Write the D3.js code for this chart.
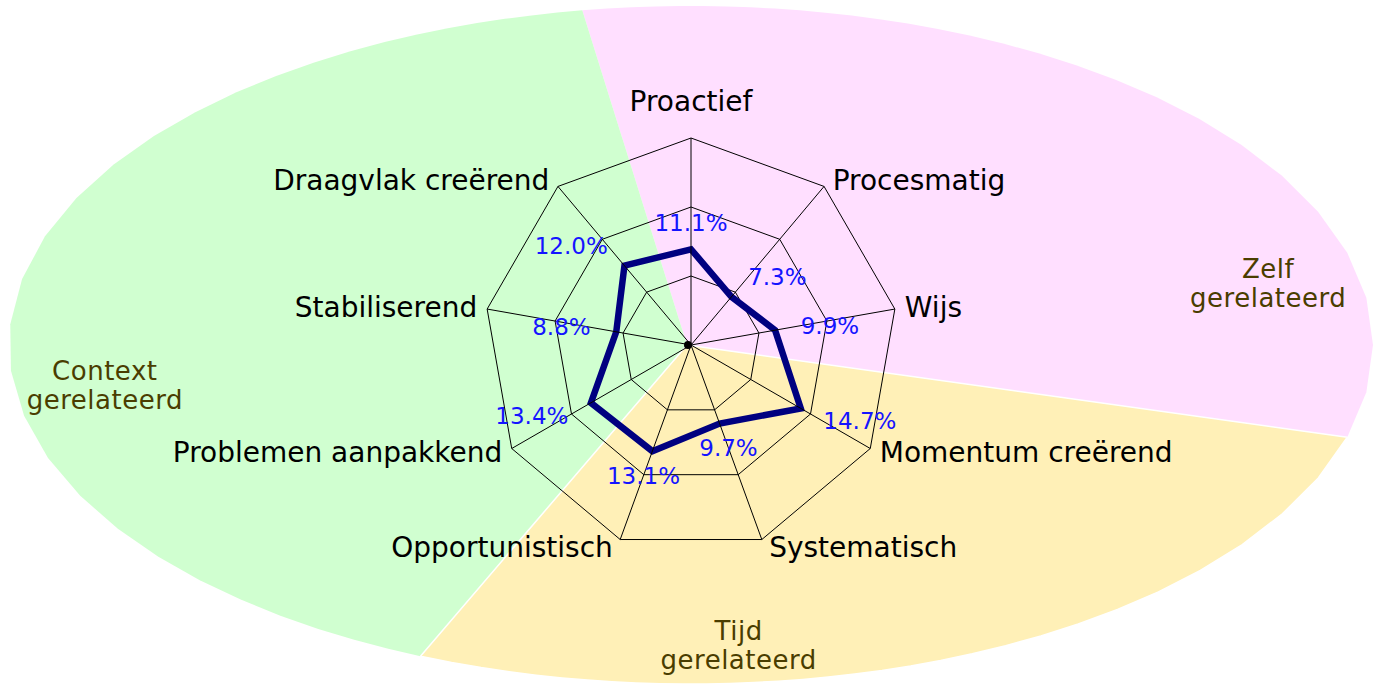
<!DOCTYPE html>
<html>
<head>
<meta charset="utf-8">
<script src="https://cdn.jsdelivr.net/npm/d3@7"></script>
<style>
  body { margin: 0; background: #fff; }
  svg { display: block; }
</style>
</head>
<body>
<div id="chart"></div>
<script>
// the nine spokes, clockwise from the top
var axes = ["Proactief", "Procesmatig", "Wijs", "Momentum creërend", "Systematisch",
            "Opportunistisch", "Problemen aanpakkend", "Stabiliserend", "Draagvlak creërend"];
// share per spoke, in %
var values = [11.1, 7.3, 9.9, 14.7, 9.7, 13.1, 13.4, 8.8, 12.0];
// grid rings (not labelled in the picture)
var ringTicks = [8, 16, 24];
// the three background groups: Zelf (pink), Tijd (yellow), Context (green)
var groupNames = [["Zelf", "gerelateerd"], ["Tijd", "gerelateerd"], ["Context", "gerelateerd"]];
var groupColors = ["#ffdfff", "#fff0b7", "#d0ffd0"];

var width = 1380, height = 684;
var cx = 691, cy = 345, R = 207;   // radar centre and outer radius
var ex = 682, ey = 339;            // background ellipse radii

var svg = d3.select("#chart")
  .append("svg")
    .attr("width", width)
    .attr("height", height);

// ---- background: ellipse cut into three sectors (angles in degrees, clockwise from 3 o'clock)
var sectorAngles = [[-108, 8], [8, 131], [131, 252]];
var groupLabelPos = [[-6, 0.865], [81, 0.89], [176, 0.868]];

function ellipsePoint(deg, frac) {
  var a = deg * Math.PI / 180, c = Math.cos(a), s = Math.sin(a);
  var r = (frac || 1) / Math.sqrt(c * c / (ex * ex) + s * s / (ey * ey));
  return [cx + r * c, cy + r * s];
}

var drawOrder = [0, 2, 1];  // yellow last so its white edge shows
drawOrder.forEach(function(i) {
  var sa = sectorAngles[i];
  var n = Math.ceil((sa[1] - sa[0]) / 4);
  var pts = [[cx - 4, cy]];
  for (var k = 0; k <= n; k++) pts.push(ellipsePoint(sa[0] + (sa[1] - sa[0]) * k / n));
  svg.append("path")
    .attr("d", d3.line()(pts) + "Z")
    .attr("fill", groupColors[i])
    .attr("stroke", i == 1 ? "#fff" : "none")
    .attr("stroke-width", 1.5)
    .attr("stroke-linejoin", "round");
});

// group labels
groupNames.forEach(function(lines, i) {
  var p = ellipsePoint(groupLabelPos[i][0], groupLabelPos[i][1]);
  var t = svg.append("text")
    .attr("text-anchor", "middle")
    .style("font-family", "'DejaVu Sans', sans-serif")
    .style("font-size", "26px")
    .style("letter-spacing", "0.5px")
    .style("fill", "#4a3d00");
  lines.forEach(function(l, j) {
    t.append("tspan")
      .attr("x", p[0])
      .attr("y", p[1] - 6 + j * 29)
      .text(l);
  });
});

// ---- radar
var r = d3.scaleLinear().domain([0, 24]).range([0, R]);
var angle = d3.scaleLinear().domain([0, axes.length]).range([0, 2 * Math.PI]);

function pt(i, v) {
  var a = angle(i);
  return [cx + r(v) * Math.sin(a), cy - r(v) * Math.cos(a)];
}

var g = svg.append("g").attr("transform", "translate(" + cx + "," + cy + ")");

// rings
ringTicks.forEach(function(t) {
  g.append("path")
    .attr("d", d3.lineRadial()
      .angle(function(d, i) { return angle(i); })
      .radius(r(t))
      .curve(d3.curveLinearClosed)(axes))
    .attr("fill", "none")
    .attr("stroke", "#000")
    .attr("stroke-width", 1);
});

// spokes
axes.forEach(function(a, i) {
  var p = pt(i, ringTicks[ringTicks.length - 1]);
  svg.append("line")
    .attr("x1", cx).attr("y1", cy)
    .attr("x2", p[0]).attr("y2", p[1])
    .attr("stroke", "#000")
    .attr("stroke-width", 1);
});

// data line
g.append("path")
  .attr("d", d3.lineRadial()
    .angle(function(d, i) { return angle(i); })
    .radius(function(d) { return r(d); })
    .curve(d3.curveLinearClosed)(values))
  .attr("fill", "none")
  .attr("stroke", "#000080")
  .attr("stroke-width", 6.5)
  .attr("stroke-linejoin", "miter");

// centre dot
svg.append("circle")
  .attr("cx", cx - 3).attr("cy", cy)
  .attr("r", 4)
  .attr("fill", "#000");

// spoke names
axes.forEach(function(name, i) {
  var a = angle(i), s = Math.sin(a), c = Math.cos(a);
  var p = pt(i, ringTicks[ringTicks.length - 1]);
  var anchor = s > 0.1 ? "start" : (s < -0.1 ? "end" : "middle");
  var dx = anchor == "middle" ? 0 : (anchor == "start" ? 1 : -1) * (6 + 4 * Math.abs(s));
  var y = p[1] - 8 * c - (c > 0.95 ? 29 : 0);
  svg.append("text")
    .attr("x", p[0] + dx)
    .attr("y", y)
    .attr("text-anchor", anchor)
    .attr("dominant-baseline", "central")
    .style("font-family", "'DejaVu Sans', sans-serif")
    .style("font-size", "28px")
    .style("fill", "#000")
    .text(name);
});

// value labels
values.forEach(function(v, i) {
  var a = angle(i), s = Math.sin(a), c = Math.cos(a);
  var p = pt(i, v);
  var anchor = s > 0.5 ? "start" : (s < -0.5 ? "end" : "middle");
  svg.append("text")
    .attr("x", p[0] + 26 * s)
    .attr("y", p[1] - 26 * c)
    .attr("text-anchor", anchor)
    .attr("dominant-baseline", "central")
    .style("font-family", "'DejaVu Sans', sans-serif")
    .style("font-size", "23px")
    .style("fill", "#1414ff")
    .text(v.toFixed(1) + "%");
});
</script>
</body>
</html>
